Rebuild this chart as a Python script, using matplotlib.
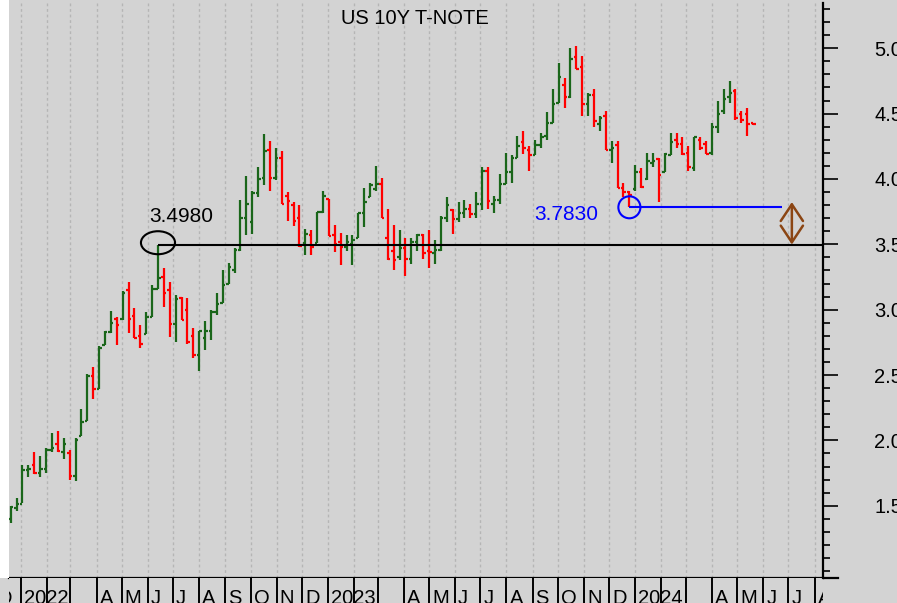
import numpy as np
import pandas as pd
import matplotlib
matplotlib.use("Agg")
import matplotlib.pyplot as plt
import matplotlib.dates as mdates
from matplotlib.patches import Ellipse, Rectangle
from matplotlib.lines import Line2D
from matplotlib.ticker import FormatStrFormatter
import matplotlib.transforms as mtrans

plt.rcParams['font.family'] = ['Liberation Sans', 'DejaVu Sans']

# weekly OHLC bars of the US 10Y yield, one per week starting Monday
first_week = '2021-12-20'
opens = [1.40, 1.48, 1.51, 1.77, 1.81, 1.75, 1.78, 1.93, 1.97, 1.91,
         1.90, 1.73, 2.03, 2.15, 2.49, 2.39, 2.73, 2.83, 2.93, 2.93,
         3.15, 2.95, 2.80, 2.81, 2.94, 3.16, 3.25, 3.15, 2.89, 3.09,
         3.00, 2.80, 2.65, 2.78, 2.84, 2.98, 3.05, 3.20, 3.30, 3.46,
         3.70, 3.67, 3.89, 4.01, 4.22, 4.01, 4.16, 3.87, 3.80, 3.70,
         3.51, 3.57, 3.51, 3.75, 3.85, 3.57, 3.52, 3.48, 3.50, 3.55,
         3.74, 3.86, 3.92, 3.96, 3.55, 3.45, 3.40, 3.47, 3.39, 3.52,
         3.57, 3.45, 3.43, 3.46, 3.70, 3.76, 3.69, 3.74, 3.77, 3.73,
         3.81, 4.06, 3.81, 3.84, 3.96, 4.05, 4.16, 4.28, 4.22, 4.18,
         4.26, 4.33, 4.43, 4.58, 4.72, 4.63, 4.93, 4.86, 4.57, 4.64,
         4.42, 4.48, 4.22, 4.26, 3.93, 3.90, 3.92, 4.05, 4.00, 4.12,
         4.15, 4.05, 4.18, 4.30, 4.27, 4.20, 4.08, 4.30, 4.27, 4.20,
         4.40, 4.52, 4.63, 4.67, 4.50, 4.50, 4.43]
highs = [1.50, 1.56, 1.81, 1.81, 1.91, 1.88, 1.94, 2.06, 2.07, 2.02,
         1.93, 2.02, 2.24, 2.51, 2.56, 2.72, 2.84, 2.99, 2.94, 3.14,
         3.21, 3.01, 2.88, 2.98, 3.19, 3.498, 3.32, 3.21, 3.11, 3.10,
         3.09, 2.86, 2.84, 2.91, 3.00, 3.13, 3.30, 3.36, 3.47, 3.84,
         4.02, 3.91, 4.09, 4.34, 4.29, 4.24, 4.21, 3.90, 3.82, 3.80,
         3.62, 3.61, 3.75, 3.91, 3.85, 3.65, 3.59, 3.57, 3.57, 3.74,
         3.93, 3.97, 4.10, 4.01, 3.77, 3.65, 3.61, 3.55, 3.55, 3.58,
         3.58, 3.61, 3.53, 3.72, 3.86, 3.77, 3.82, 3.84, 3.81, 3.90,
         4.09, 4.09, 3.87, 4.04, 4.20, 4.18, 4.33, 4.37, 4.25, 4.30,
         4.35, 4.51, 4.69, 4.89, 4.77, 5.00, 5.02, 4.94, 4.66, 4.69,
         4.48, 4.52, 4.29, 4.29, 3.97, 3.91, 4.11, 4.08, 4.20, 4.20,
         4.16, 4.20, 4.35, 4.35, 4.32, 4.25, 4.32, 4.32, 4.29, 4.43,
         4.60, 4.69, 4.75, 4.69, 4.52, 4.54, 4.43]
lows = [1.37, 1.46, 1.52, 1.72, 1.74, 1.72, 1.75, 1.91, 1.91, 1.86,
        1.70, 1.69, 2.03, 2.15, 2.32, 2.39, 2.73, 2.82, 2.73, 2.92,
        2.82, 2.78, 2.71, 2.81, 2.94, 3.16, 3.02, 2.79, 2.75, 2.92,
        2.74, 2.63, 2.53, 2.69, 2.77, 2.96, 3.05, 3.20, 3.28, 3.45,
        3.57, 3.58, 3.86, 3.95, 3.91, 3.99, 3.81, 3.68, 3.64, 3.48,
        3.42, 3.42, 3.51, 3.74, 3.56, 3.44, 3.34, 3.45, 3.34, 3.55,
        3.63, 3.86, 3.91, 3.70, 3.38, 3.30, 3.38, 3.26, 3.35, 3.45,
        3.39, 3.32, 3.35, 3.45, 3.67, 3.58, 3.67, 3.70, 3.70, 3.70,
        3.76, 3.77, 3.74, 3.81, 3.96, 3.97, 4.16, 4.19, 4.06, 4.18,
        4.24, 4.30, 4.43, 4.58, 4.54, 4.62, 4.84, 4.48, 4.48, 4.40,
        4.37, 4.22, 4.12, 3.93, 3.86, 3.783, 3.91, 3.93, 3.99, 4.09,
        3.82, 4.05, 4.18, 4.24, 4.18, 4.06, 4.06, 4.22, 4.19, 4.18,
        4.35, 4.50, 4.58, 4.45, 4.43, 4.33, 4.41]
closes = [1.49, 1.51, 1.77, 1.78, 1.75, 1.78, 1.93, 1.94, 1.92, 1.97,
          1.73, 2.00, 2.14, 2.49, 2.39, 2.71, 2.83, 2.90, 2.88, 3.13,
          2.93, 2.78, 2.74, 2.94, 3.16, 3.24, 3.13, 2.89, 3.08, 2.92,
          2.75, 2.65, 2.84, 2.84, 2.98, 3.04, 3.19, 3.33, 3.46, 3.70,
          3.81, 3.89, 4.00, 4.21, 4.01, 4.16, 3.81, 3.83, 3.68, 3.49,
          3.58, 3.48, 3.75, 3.87, 3.56, 3.50, 3.48, 3.52, 3.53, 3.74,
          3.82, 3.95, 3.96, 3.70, 3.39, 3.38, 3.47, 3.39, 3.52, 3.57,
          3.43, 3.44, 3.46, 3.70, 3.80, 3.69, 3.74, 3.77, 3.73, 3.81,
          4.06, 3.83, 3.84, 3.96, 4.05, 4.16, 4.25, 4.24, 4.18, 4.26,
          4.32, 4.43, 4.57, 4.78, 4.63, 4.92, 4.84, 4.57, 4.64, 4.44,
          4.47, 4.22, 4.24, 3.93, 3.90, 3.88, 4.05, 3.94, 4.14, 4.14,
          4.03, 4.19, 4.28, 4.27, 4.19, 4.09, 4.32, 4.24, 4.19, 4.40,
          4.50, 4.61, 4.66, 4.47, 4.45, 4.42, 4.42]

title = 'US 10Y T-NOTE'
peak_idx = 25        # June 2022 high
trough_idx = 105     # Dec 2023 low
peak_label = '3.4980'
trough_label = '3.7830'
month_letters = 'JFMAMJJASOND'

GREEN = '#1a661a'
RED = '#ff0000'
BG = '#d3d3d3'

W, H = 897, 603
fig = plt.figure(figsize=(W / 100, H / 100), dpi=100, facecolor=BG)


def px_axes(l, t, r, b):
    return fig.add_axes([l / W, 1 - b / H, (r - l) / W, (b - t) / H])


# white strip on the left edge
fig.patches.append(Rectangle((0, 1 - 578 / H), 9 / W, 578 / H, transform=fig.transFigure,
                             facecolor='white', edgecolor='none', zorder=0))

ax = px_axes(9, 3, 823, 578)
strip = px_axes(9, 578, 823, 603)
ax.set_facecolor(BG)
strip.set_facecolor(BG)

dates = pd.date_range(first_week, periods=len(closes), freq='7D')
x = mdates.date2num(dates)
o, h, l, c = map(np.array, (opens, highs, lows, closes))
cols = np.where(c >= o, GREEN, RED)

xmin, xmax = mdates.date2num(pd.Timestamp('2021-12-18')), mdates.date2num(pd.Timestamp('2024-08-11'))
ymin, ymax = 0.947, 5.346

# monthly dotted grid
months = pd.date_range('2021-12-01', '2024-09-01', freq='MS')
mx = mdates.date2num(months)
for m in mx:
    ax.axvline(m, color='#b5b5b5', lw=1, ls=(0, (2, 2)), zorder=1)

# OHLC bars
ax.vlines(x, l, h, colors=cols, lw=1.6, zorder=3)
ax.hlines(o, x - 3, x, colors=cols, lw=1.6, zorder=3)
ax.hlines(c, x, x + 3, colors=cols, lw=1.6, zorder=3)

ax.set_xlim(xmin, xmax)
ax.set_ylim(ymin, ymax)
ax.set_xticks([])

ax.yaxis.tick_right()
ax.set_yticks(np.arange(1.5, 5.01, 0.5))
ax.set_yticks(np.arange(1.0, 5.35, 0.1), minor=True)
ax.yaxis.set_major_formatter(FormatStrFormatter('%.2f'))
ax.tick_params(axis='y', which='major', length=11, width=1.2, pad=26, labelsize=14.5, colors='black')
ax.tick_params(axis='y', which='minor', length=5, width=1.2)
for s in ('left', 'top'):
    ax.spines[s].set_visible(False)
for s in ('right', 'bottom'):
    ax.spines[s].set_linewidth(1.6)
fig.add_artist(Line2D([823 / W, 838 / W], [1 - 578 / H] * 2, color='black', lw=1.6))

# month strip under the chart
strip.set_xlim(xmin, xmax)
strip.set_ylim(0, 1)
strip.set_xticks([])
strip.set_yticks([])
for s in strip.spines.values():
    s.set_visible(False)
strip.vlines(mx, 0, 1, colors='black', lw=1.4)
lab_tr = strip.get_xaxis_transform() + mtrans.ScaledTranslation(3 / 100, 0, fig.dpi_scale_trans)
for d, m in zip(months, mx):
    if d.month == 1:
        lab = str(d.year)
    elif d.month in (2, 3):
        continue
    else:
        lab = month_letters[d.month - 1]
    strip.text(m, -0.06, lab, transform=lab_tr, ha='left', va='baseline',
               fontsize=14.5, clip_on=True)

# June 2022 high
px0, py0 = x[peak_idx], h[peak_idx]
ax.hlines(py0, px0, xmax, colors='black', lw=1.5, zorder=4)
ax.add_patch(Ellipse((px0, py0 + 0.014), 40.5, 0.176, fill=False, ec='black', lw=1.5, zorder=5))
ax.annotate(peak_label, (px0, py0), xytext=(16.5, 20.5), textcoords='offset points',
            ha='center', va='center', fontsize=15, color='black')

# Dec 2023 low
tx0, ty0 = x[trough_idx], l[trough_idx]
line_end = mdates.date2num(pd.Timestamp('2024-06-23'))
ax.hlines(ty0, tx0, line_end, colors='#0000ff', lw=1.5, zorder=4)
ax.add_patch(Ellipse((tx0, ty0), 26.2, 0.168, fill=False, ec='#0000ff', lw=1.5, zorder=5))
ax.annotate(trough_label, (tx0, ty0), xytext=(-45.5, -5), textcoords='offset points',
            ha='center', va='center', fontsize=15, color='#0000ff')

# gap between the two levels (open double arrow)
arrow_x = mdates.date2num(pd.Timestamp('2024-07-05'))
ax.annotate('', xy=(arrow_x, ty0 + 0.04), xytext=(arrow_x, py0),
            arrowprops=dict(arrowstyle='<->,head_length=1.2,head_width=0.8', color='#8b4513',
                            lw=1.8, shrinkA=0, shrinkB=0, mutation_scale=10), zorder=5)

fig.text(415 / W, 1 - 18 / H, title, ha='center', va='center', fontsize=14.5)

fig.savefig('out.png', dpi=100, facecolor=BG)
